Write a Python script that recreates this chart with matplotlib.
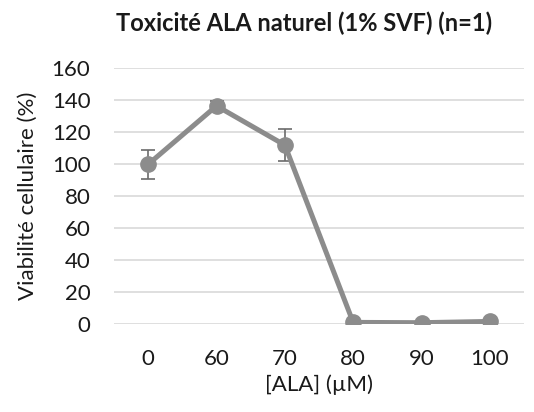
import matplotlib
matplotlib.use("Agg")
import matplotlib.pyplot as plt

# data
conc = ["0", "60", "70", "80", "90", "100"]
viab = [100, 136.5, 112, 1.2, 1, 1.8]
err = [9, 3, 10, 0, 0, 0]

plt.rcParams['font.family'] = ['Lato', 'DejaVu Sans']

fig = plt.figure(figsize=(5.34, 4.12), dpi=100)
ax = fig.add_axes([114/534, 1-324.3/412, 410/534, (324.3-68.3)/412])

x = list(range(len(conc)))
ax.errorbar(x, viab, yerr=err,
            fmt='none', ecolor='#6b6b6b', elinewidth=1.2, capsize=5, capthick=1.2, zorder=2)
ax.plot(x, viab, color='#8c8c8c', lw=3.6, marker='o', ms=11, zorder=3)

ax.set_xlim(-0.5, len(conc)-0.5)
ax.set_ylim(0, 160)
ax.set_yticks(range(0, 161, 20))
ax.set_xticks(x)
ax.set_xticklabels(conc)
ax.grid(axis='y', color='#d9d9d9', lw=1.2)
ax.set_axisbelow(True)
for s in ax.spines.values():
    s.set_visible(False)
ax.tick_params(length=0, labelsize=16, colors='#1a1a1a')
ax.tick_params(axis='y', pad=17)
ax.tick_params(axis='x', pad=18)
ax.set_xlabel('[ALA] (µM)', fontsize=16, labelpad=4, color='#1a1a1a')
ax.set_ylabel('Viabilité cellulaire (%)', fontsize=16, labelpad=10, color='#1a1a1a')
fig.text(0.569, 0.944, 'Toxicité ALA naturel (1% SVF) (n=1)', fontsize=17,
         fontweight='bold', ha='center', va='center', color='#1a1a1a')

plt.savefig('out.png', dpi=100)
plt.close()
